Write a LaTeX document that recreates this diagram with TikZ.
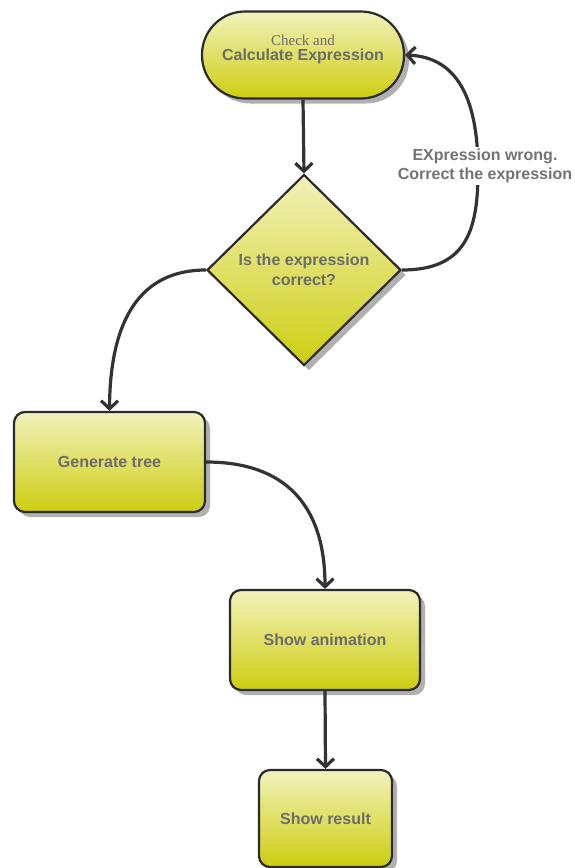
\documentclass[tikz,border=0pt]{standalone}
\usepackage{fontspec}
\setmainfont{Liberation Sans}
\newfontfamily\serifc{Liberation Serif}
\usetikzlibrary{shapes.geometric,arrows.meta,shadows}
\definecolor{ytop}{HTML}{F2F2BC}
\definecolor{ybot}{HTML}{CDCD10}
\definecolor{linec}{HTML}{2B2B2B}
\definecolor{arrc}{HTML}{333333}
\definecolor{txtc}{HTML}{6C6C6C}
\definecolor{lblc}{HTML}{737373}
\definecolor{shadowc}{HTML}{B0B0B0}
\tikzset{
  box/.style={draw=linec, line width=2.2pt, top color=ytop, bottom color=ybot,
    general shadow={shadow xshift=5pt, shadow yshift=-5pt, fill=shadowc},
    font=\bfseries\fontsize{16}{20}\selectfont, text=txtc, align=center, inner sep=0pt},
  termbox/.style={box, rounded corners=43pt, minimum width=202pt, minimum height=87pt},
  rbox/.style={box, rounded corners=11pt},
  decbox/.style={box, diamond, minimum width=194pt, minimum height=191pt},
  conn/.style={draw=arrc, line width=3.2pt, -{Straight Barb[length=8pt,width=17pt]}},
  lbl/.style={fill=white, inner sep=2pt, font=\bfseries\fontsize{16}{19}\selectfont, text=lblc, align=center},
}
\begin{document}
\begin{tikzpicture}[x=1pt,y=-1pt]
\useasboundingbox (0,0) rectangle (574,868);
\node[termbox] (calc) at (303,55) {};
\node[align=center, text=txtc, inner sep=0pt, font=\fontsize{16}{15}\selectfont] (calctxt) at (303,49)
  {{\serifc\fontsize{15}{15}\selectfont Check and}\\{\bfseries Calculate Expression}};
\node[decbox] (dec) at (304,270) {Is the expression\\correct?};
\node[rbox, minimum width=191pt, minimum height=100pt] (gen) at (109.5,462) {Generate tree};
\node[rbox, minimum width=190pt, minimum height=100pt] (anim) at (325,640) {Show animation};
\node[rbox, minimum width=133pt, minimum height=97pt] (res) at (325.5,818.5) {Show result};

\draw[conn] (calc.south) -- (dec.north);
\draw[conn] (dec.west) .. controls (140,270) and (110,320) .. (gen.north);
\draw[conn] (dec.east) .. controls (468,270) and (478,228) .. (478,170)
   .. controls (478,95) and (455,57) .. (calc.east);
\node[lbl] (wrong) at (485,166) {EXpression wrong.\\Correct the expression};
\draw[conn] (gen.east) .. controls (285,462) and (325,505) .. (anim.north);
\draw[conn] (anim.south) -- (res.north);
\end{tikzpicture}
\end{document}
